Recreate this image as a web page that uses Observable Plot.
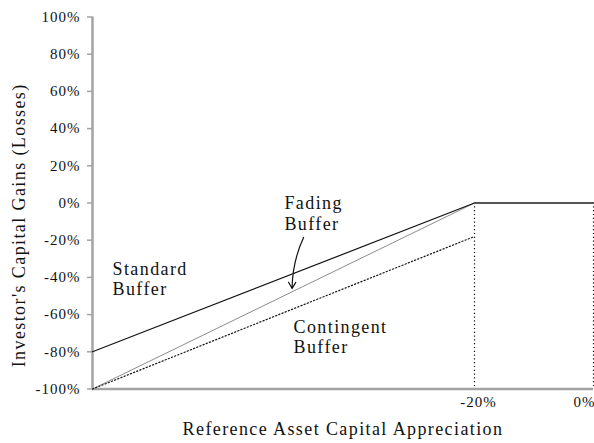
<!DOCTYPE html>
<html>
<head>
<meta charset="utf-8">
<script src="https://cdn.jsdelivr.net/npm/d3@7"></script>
<script src="https://cdn.jsdelivr.net/npm/@observablehq/plot@0.6"></script>
<style>
  html, body { margin: 0; padding: 0; background: #fff; }
  #chart svg { display: block; }
  g[aria-label="y-axis tick label"] text,
  g[aria-label="x-axis tick label"] text { letter-spacing: 1px; }
  g[aria-label="text"] text { letter-spacing: 1.4px; }
</style>
</head>
<body>
<div id="chart"></div>
<script>
// Reference asset return (x, %) and investor gain (y, %)
const stdX = [-100, -20];
const stdY = [-80, 0];
const fadeX = [-100, -20];
const fadeY = [-100, 0];
const contX = [-100, -20];
const contY = [-100, -18];
const flatX = [-20, 0];
const flatY = [0, 0];
const xTicks = [-20, 0];
const yTicks = [100, 80, 60, 40, 20, 0, -20, -40, -60, -80, -100];
const markers = [-20, 0];
const labels = ["Standard\nBuffer", "Fading\nBuffer", "Contingent\nBuffer"];
const labelX = [-95.8, -59.8, -57.9];
const labelY = [-40.6, -5.4, -72];
const arrowFrom = [-55.8, -18.5];
const arrowTo = [-58.2, -46];
const xTitle = "Reference Asset Capital Appreciation";
const yTitle = "Investor's Capital Gains (Losses)";

const fmt = d => d + "%";
const axisGray = "#a3a3a3";
const font = "'Liberation Serif', 'Times New Roman', serif";

const chart = Plot.plot({
  width: 594,
  height: 443,
  marginLeft: 92,
  marginRight: 1,
  marginTop: 16.5,
  marginBottom: 54.5,
  style: { fontFamily: font, color: "#111", background: "#fff", overflow: "visible" },
  x: { type: "linear", domain: [-100, -20, 0], range: [92, 474, 593] },
  y: { domain: [-100, 100] },
  marks: [
    Plot.ruleX(markers, { y1: 0, y2: -100, stroke: "#111", strokeWidth: 1.2, strokeDasharray: "1.2,2.6" }),
    Plot.ruleY([-100], { stroke: axisGray, strokeWidth: 2.5 }),
    Plot.ruleX([-100], { stroke: axisGray, strokeWidth: 2.5 }),
    Plot.axisY({ ticks: yTicks, tickFormat: fmt, tickSize: 5, tickPadding: 7, stroke: axisGray, strokeWidth: 1.5, fontSize: 15, fill: "#111", label: null }),
    Plot.axisX({ ticks: [xTicks[0]], tickFormat: fmt, tickSize: 0, tickPadding: 7, dx: 4, fontSize: 15, fill: "#111", label: null }),
    Plot.axisX({ ticks: [xTicks[1]], tickFormat: fmt, tickSize: 0, tickPadding: 7, textAnchor: "end", dx: 2, fontSize: 15, fill: "#111", label: null }),
    Plot.line(fadeX, { x: fadeX, y: fadeY, stroke: "#8c8c8c", strokeWidth: 1 }),
    Plot.line(contX, { x: contX, y: contY, stroke: "#111", strokeWidth: 1.2, strokeDasharray: "1.2,2.2" }),
    Plot.line(stdX, { x: stdX, y: stdY, stroke: "#111", strokeWidth: 1.2 }),
    Plot.line(flatX, { x: flatX, y: flatY, stroke: "#555", strokeWidth: 2 }),
    Plot.arrow([0], { x1: arrowFrom[0], y1: arrowFrom[1], x2: arrowTo[0], y2: arrowTo[1], bend: -12, headLength: 9, stroke: "#111", strokeWidth: 1.2 }),
    Plot.text(labels, { x: labelX, y: labelY, text: d => d, textAnchor: "start", lineAnchor: "middle", lineHeight: 1.12, fontSize: 18, fill: "#111" }),
    Plot.text([xTitle], { frameAnchor: "bottom", dy: 40, text: d => d, textAnchor: "middle", fontSize: 18, fill: "#111", lineAnchor: "middle" }),
    Plot.text([yTitle], { frameAnchor: "left", y: [-12], text: d => d, rotate: -90, dx: -73, textAnchor: "middle", fontSize: 18, fill: "#111", lineAnchor: "middle" })
  ]
});
document.getElementById("chart").appendChild(chart);
</script>
</body>
</html>
